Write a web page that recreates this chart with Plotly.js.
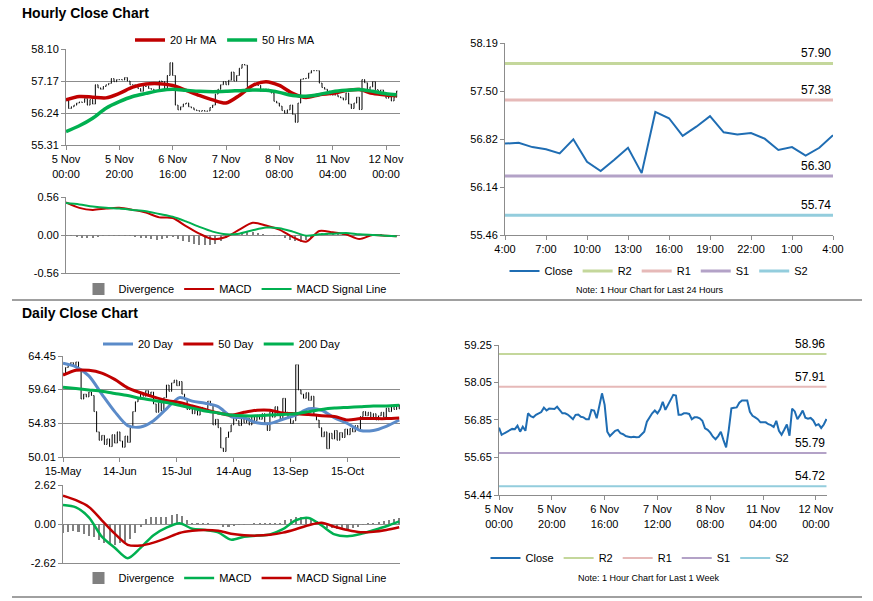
<!DOCTYPE html>
<html><head><meta charset="utf-8">
<script src="https://cdn.plot.ly/plotly-3.0.1.min.js"></script>
<style>html,body{margin:0;padding:0;background:#fff;}#chart{width:873px;height:601px;}</style>
</head><body><div id="chart"></div>
<script>
// ---------- DATA ----------
// Hourly closes, last week (5 Nov 00:00 .. 12 Nov 04:00), one per trading hour
const weekClose = [
56.60,56.37,56.42,56.47,56.53,56.56,56.55,56.66,56.47,56.63,
56.50,57.06,56.97,56.93,57.01,57.06,57.10,57.24,57.15,57.21,
57.21,57.20,57.27,57.17,57.06,57.06,57.02,56.95,56.87,57.01,
57.02,56.95,56.93,56.87,56.87,57.17,57.15,56.90,57.33,57.70,
57.33,56.47,56.33,56.42,56.50,56.53,56.42,56.39,56.33,56.31,
56.29,56.31,56.29,56.30,56.40,56.47,56.79,56.93,57.06,57.15,
57.06,57.19,57.43,57.17,57.33,57.54,57.65,57.63,57.01,57.01,
57.06,57.06,57.04,56.87,56.93,56.93,56.90,56.82,56.58,56.53,
56.44,56.31,56.23,56.33,56.47,56.20,55.97,56.53,57.22,57.24,
57.25,57.40,57.47,57.47,57.47,57.11,56.98,56.93,56.87,56.77,
56.76,56.77,56.71,56.68,56.62,56.82,56.50,56.37,56.53,56.70,
56.34,57.21,57.12,56.87,57.00,57.15,56.92,56.89,56.91,56.83,
56.67,56.71,56.59,56.70,56.88];
const weekTickHours = [0,20,40,60,80,100,120];
const weekTickLabels = ['5 Nov<br>00:00','5 Nov<br>20:00','6 Nov<br>16:00','7 Nov<br>12:00','8 Nov<br>08:00','11 Nov<br>04:00','12 Nov<br>00:00'];

// Hourly moving averages, read every 5 hours
const maHours = [0,5,10,15,20,25,30,35,40,45,50,55,60,65,70,75,80,85,90,95,100,105,110,115,120,124];
const ma20Hr = [56.62,56.72,56.70,56.68,56.81,56.99,57.08,57.09,57.04,56.90,56.75,56.62,56.53,56.75,57.04,57.15,57.04,56.81,56.69,56.77,56.81,56.89,56.92,56.81,56.76,56.74];
const ma50Hr = [55.70,55.87,56.09,56.38,56.57,56.72,56.81,56.89,56.93,56.90,56.87,56.86,56.87,56.89,56.91,56.90,56.84,56.75,56.73,56.78,56.86,56.90,56.92,56.87,56.80,56.77];
const hourlyMacd = [0.48,0.40,0.37,0.39,0.40,0.37,0.33,0.26,0.25,0.13,0.02,-0.06,-0.03,0.08,0.18,0.14,0.08,-0.03,-0.10,0.06,0.04,0.01,-0.06,0.00,-0.01,-0.02];
const hourlySignal = [0.47,0.45,0.42,0.40,0.39,0.37,0.35,0.31,0.27,0.20,0.12,0.05,0.01,0.02,0.07,0.11,0.10,0.05,-0.01,0.01,0.02,0.03,0.01,0.00,-0.01,-0.02];
// Hourly divergence, every 2 hours from hour 0
const hourlyDivergence = [-0.01,-0.02,-0.03,-0.04,-0.04,-0.04,-0.03,-0.02,-0.02,-0.01,
-0.01,-0.01,-0.02,-0.03,-0.04,-0.05,-0.06,-0.07,-0.06,-0.05,
-0.03,-0.06,-0.09,-0.11,-0.13,-0.14,-0.15,-0.15,-0.13,-0.09,
-0.04,0.01,0.03,0.05,0.06,0.05,0.03,0.01,0.00,-0.01,
-0.02,-0.05,-0.07,-0.09,-0.10,-0.08,-0.04,0.01,0.03,0.03,
0.02,0.02,0.01,-0.01,-0.02,-0.02,0.00,0.01,0.01,0.01,
0.00,0.00,-0.01];

const hourlyPriceTicks = [55.31,56.24,57.17,58.10];
const hourlyMacdTicks = [-0.56,0.00,0.56];

// Last 24 hours
const dayClose = [56.76,56.77,56.71,56.68,56.62,56.82,56.50,56.37,56.53,56.70,56.34,57.21,57.12,56.87,57.00,57.15,56.92,56.89,56.91,56.83,56.67,56.71,56.59,56.70,56.88];
const dayTickHours = [0,3,6,9,12,15,18,21,24];
const dayTickLabels = ['4:00','7:00','10:00','13:00','16:00','19:00','22:00','1:00','4:00'];
const dayPriceTicks = [55.46,56.14,56.82,57.50,58.19];
const pivotNames = ['R2','R1','S1','S2'];
const pivot24 = [57.90,57.38,56.30,55.74];
const pivotWeek = [58.96,57.91,55.79,54.72];
const weekPriceTicks = [54.44,55.65,56.85,58.05,59.25];

// Daily closes (15 May .. 12 Nov)
const dailyClose = [
62.0,62.8,63.2,63.5,63.0,63.6,62.4,58.3,59.0,58.6,
59.3,58.8,56.5,53.6,52.4,53.1,51.8,52.6,51.5,53.2,
52.0,53.6,52.3,51.4,53.0,52.1,54.2,56.5,57.9,58.3,
59.2,58.7,59.5,58.9,59.3,57.6,56.4,57.8,56.6,58.5,
60.3,59.4,60.6,61.0,60.2,60.8,59.0,58.2,56.8,57.4,
56.2,56.9,56.0,57.1,56.5,56.9,58.0,57.4,54.6,55.4,
54.2,51.3,50.8,52.8,53.6,54.6,55.8,55.2,54.5,55.5,
54.9,55.6,54.6,55.8,55.2,56.0,55.4,56.2,54.9,53.8,
56.5,55.7,57.2,56.0,55.3,58.4,56.4,55.5,54.8,55.2,
63.2,59.6,59.0,58.4,59.2,58.1,58.7,56.1,55.3,54.2,
52.9,53.6,51.2,53.4,52.6,53.8,52.4,53.5,52.8,54.0,
53.2,54.1,53.6,54.5,53.9,55.8,56.5,55.9,56.4,55.6,
56.2,55.3,55.9,56.4,55.7,57.0,56.5,57.4,56.8,57.5,
56.9];
const dailyTickDays = [0,22,44,66,88,110];
const dailyTickLabels = ['15-May','14-Jun','15-Jul','14-Aug','13-Sep','15-Oct'];
const maDays = [0,5,10,15,20,25,30,35,40,45,50,55,60,65,70,75,80,85,90,95,100,105,110,115,120,125,130];
const ma20Day = [63.4,62.9,61.6,59.0,56.5,54.5,54.3,55.2,56.9,58.5,58.0,57.7,57.2,55.8,55.6,54.9,54.8,55.4,56.0,56.9,56.7,55.6,54.8,53.8,53.8,54.4,55.3];
const ma50Day = [61.7,62.4,62.4,62.0,61.1,59.9,59.2,58.6,58.1,57.8,57.3,56.8,56.3,56.0,56.4,56.7,56.7,56.3,56.2,56.1,55.9,55.8,55.3,55.5,55.5,55.5,55.6];
const ma200Day = [60.0,59.8,59.6,59.4,59.1,58.8,58.4,58.1,57.8,57.4,57.0,56.6,56.3,56.0,55.9,55.9,56.0,56.1,56.2,56.5,56.8,57.0,57.1,57.2,57.3,57.3,57.4];
const dailyMacd = [1.28,1.12,0.45,-0.85,-1.6,-2.3,-1.6,-0.75,-0.25,0.05,-0.32,-0.4,-0.56,-1.05,-0.85,-0.78,-0.7,-0.35,0.25,0.4,-0.1,-0.7,-0.82,-0.67,-0.42,-0.15,0.18];
const dailySignal = [1.9,1.6,1.15,0.25,-0.65,-1.4,-1.45,-1.25,-0.95,-0.6,-0.45,-0.4,-0.45,-0.65,-0.75,-0.78,-0.72,-0.58,-0.35,-0.08,0.08,-0.18,-0.4,-0.55,-0.52,-0.4,-0.22];
// Daily divergence, every 2 days from day 0
const dailyDivergence = [-0.6,-0.55,-0.5,-0.55,-0.7,-0.8,-0.9,-1.1,-1.25,-1.35,
-1.4,-1.3,-1.2,-1.0,-0.6,-0.2,0.35,0.45,0.45,0.45,
0.5,0.6,0.65,0.55,0.3,0.1,0.05,0.05,0.05,0.0,
-0.1,-0.2,-0.2,-0.15,-0.1,-0.05,0.0,0.05,0.05,0.05,
0.05,0.05,0.1,0.3,0.35,0.5,0.5,0.45,0.35,0.2,
-0.1,-0.25,-0.3,-0.35,-0.35,-0.35,-0.3,-0.2,-0.1,0.05,
0.1,0.15,0.2,0.3,0.35,0.4];
const dailyPriceTicks = [50.01,54.83,59.64,64.45];
const dailyMacdTicks = [-2.62,0.00,2.62];

// ---------- STYLE ----------
const FONT = 'Liberation Sans, Arial, sans-serif';
const GRID = '#8c8c8c';
const C = {red:'#c00000', green:'#00b050', blue:'#5b8bc9', close:'#1f6db3',
  R2:'#c4d79b', R1:'#e6b9b8', S1:'#b3a2c7', S2:'#93cddd', div:'#808080'};
const W = 873, H = 601;
const px = v => v / W, py = v => 1 - v / H;

function idx(n, step){ const a=[]; for(let i=0;i<n;i++) a.push(i*step); return a; }
function ohlc(close, xaxis, yaxis){
  const x = close.map((_,i)=>i);
  const open = close.map((c,i)=> i===0 ? c : close[i-1]);
  const high = close.map((c,i)=> Math.max(c, open[i]));
  const low = close.map((c,i)=> Math.min(c, open[i]));
  return {type:'ohlc', x, open, high, low, close, xaxis, yaxis, showlegend:false, hoverinfo:'skip',
    tickwidth:0.25, increasing:{line:{color:'#000',width:1}}, decreasing:{line:{color:'#000',width:1}}};
}
function line(x, y, name, color, width, xa, ya, leg, shape){
  return {type:'scatter', mode:'lines', x, y, name, xaxis:xa, yaxis:ya, legend:leg,
    line:{color, width, shape: shape||'linear', smoothing:0.8}, hoverinfo:'skip'};
}
function bars(x, y, width, xa, ya, leg){
  return {type:'bar', x, y, width, name:'Divergence', xaxis:xa, yaxis:ya, legend:leg,
    marker:{color:C.div, line:{width:0}}, hoverinfo:'skip'};
}

const traces = [];
// Hourly price
traces.push(ohlc(weekClose,'x','y'));
traces.push(line(maHours, ma20Hr, '20 Hr MA', C.red, 3.5, 'x','y','legend','spline'));
traces.push(line(maHours, ma50Hr, '50 Hrs MA', C.green, 3.5, 'x','y','legend','spline'));
// Hourly MACD
traces.push(bars(idx(hourlyDivergence.length,2), hourlyDivergence, 0.7, 'x2','y2','legend2'));
traces.push(line(maHours, hourlyMacd, 'MACD', C.red, 2, 'x2','y2','legend2','spline'));
traces.push(line(maHours, hourlySignal, 'MACD Signal Line', C.green, 2, 'x2','y2','legend2','spline'));
// 24h
const dayX = dayClose.map((_,i)=>i);
traces.push(line(dayX, dayClose, 'Close', C.close, 2, 'x3','y3','legend3'));
pivotNames.forEach((n,i)=> traces.push(line([0, dayX[dayX.length-1]], [pivot24[i],pivot24[i]], n, C[n], 3, 'x3','y3','legend3')));
// Daily price
traces.push(ohlc(dailyClose,'x4','y4'));
traces.push(line(maDays, ma20Day, '20 Day', C.blue, 3, 'x4','y4','legend4','spline'));
traces.push(line(maDays, ma50Day, '50 Day', C.red, 3, 'x4','y4','legend4','spline'));
traces.push(line(maDays, ma200Day, '200 Day', C.green, 3, 'x4','y4','legend4','spline'));
// Daily MACD
traces.push(bars(idx(dailyDivergence.length,2), dailyDivergence, 0.8, 'x5','y5','legend5'));
traces.push(line(maDays, dailyMacd, 'MACD', C.green, 2.5, 'x5','y5','legend5','spline'));
traces.push(line(maDays, dailySignal, 'MACD Signal Line', C.red, 2.5, 'x5','y5','legend5','spline'));
// Week
const weekX = weekClose.map((_,i)=>i);
traces.push(line(weekX, weekClose, 'Close', C.close, 2, 'x6','y6','legend6'));
pivotNames.forEach((n,i)=> traces.push(line([0, weekX[weekX.length-1]], [pivotWeek[i],pivotWeek[i]], n, C[n], 2, 'x6','y6','legend6')));

const tickfont = {family:FONT, size:11, color:'#000'};
function xax(x0, x1, y, range, tv, tt, showLabels){
  return {domain:[px(x0),px(x1)], anchor:y, range, fixedrange:true,
    tickmode:'array', tickvals:tv, ticktext:tt, showticklabels:showLabels,
    ticks: showLabels?'outside':'', ticklen:4, tickcolor:GRID,
    showline:true, linecolor:GRID, linewidth:1, showgrid:false, zeroline:false,
    tickfont, rangeslider:{visible:false}};
}
function yax(y0, y1, x, ticks, grid){
  return {domain:[py(y1),py(y0)], anchor:x, range:[ticks[0], ticks[ticks.length-1]], fixedrange:true,
    tickmode:'array', tickvals:ticks, ticktext:ticks.map(v=>v.toFixed(2)),
    ticks:'outside', ticklen:4, tickcolor:GRID, showline:true, linecolor:GRID, linewidth:1,
    showgrid:grid, gridcolor:GRID, gridwidth:1, zeroline:false, tickfont};
}
function legend(cx, cy){
  return {orientation:'h', x:px(cx), y:py(cy), xanchor:'center', yanchor:'middle',
    font:{family:FONT, size:11, color:'#000'}, bgcolor:'rgba(0,0,0,0)', itemwidth:30,
    tracegroupgap:0, itemclick:false, itemdoubleclick:false};
}

const layout = {
  width:W, height:H, margin:{l:0,r:0,t:0,b:0}, paper_bgcolor:'#fff', plot_bgcolor:'#fff',
  font:{family:FONT, size:11, color:'#000'}, bargap:0, barmode:'overlay',
  xaxis: xax(66,400,'y',[0,125.25], weekTickHours, weekTickLabels, true),
  yaxis: yax(49,145,'x',hourlyPriceTicks,true),
  xaxis2: xax(66,400,'y2',[0,125.25], [], [], false),
  yaxis2: yax(197,273,'x2',hourlyMacdTicks,true),
  xaxis3: xax(505,833,'y3',[0,24], dayTickHours, dayTickLabels, true),
  yaxis3: yax(43,235,'x3',dayPriceTicks,false),
  xaxis4: xax(63,400,'y4',[0,130.3], dailyTickDays, dailyTickLabels, true),
  yaxis4: yax(356,457,'x4',dailyPriceTicks,true),
  xaxis5: xax(63,400,'y5',[0,130.3], [], [], false),
  yaxis5: yax(485,563,'x5',dailyMacdTicks,true),
  xaxis6: xax(499,827,'y6',[0,124.2], weekTickHours, weekTickLabels, true),
  yaxis6: yax(345,495,'x6',weekPriceTicks,false),
  legend: legend(225,40), legend2: legend(235,289), legend3: legend(659,271),
  legend4: legend(222,344), legend5: legend(235,578), legend6: legend(640,558),
  annotations: [
    {text:'<b>Hourly Close Chart</b>', xref:'paper', yref:'paper', x:px(20), y:py(13), xanchor:'left', yanchor:'middle', showarrow:false, font:{family:FONT,size:14,color:'#000'}},
    {text:'<b>Daily Close Chart</b>', xref:'paper', yref:'paper', x:px(20), y:py(313), xanchor:'left', yanchor:'middle', showarrow:false, font:{family:FONT,size:14,color:'#000'}},
    {text:'Note: 1 Hour Chart for Last 24 Hours', xref:'paper', yref:'paper', x:px(650), y:py(290), xanchor:'center', yanchor:'middle', showarrow:false, font:{family:FONT,size:9,color:'#000'}},
    {text:'Note: 1 Hour Chart for Last 1 Week', xref:'paper', yref:'paper', x:px(648), y:py(578), xanchor:'center', yanchor:'middle', showarrow:false, font:{family:FONT,size:9,color:'#000'}}
  ],
  shapes: [
    {type:'line', xref:'paper', yref:'paper', x0:px(12), x1:px(862), y0:py(300), y1:py(300), line:{color:'#808080', width:1.5}},
    {type:'line', xref:'paper', yref:'paper', x0:px(12), x1:px(862), y0:py(597), y1:py(597), line:{color:'#808080', width:1.5}}
  ]
};
pivot24.forEach(v => layout.annotations.push({text:v.toFixed(2), xref:'x3 domain', yref:'y3', x:1, y:v, xanchor:'right', yanchor:'bottom', yshift:1, showarrow:false, font:{family:FONT,size:12,color:'#000'}}));
pivotWeek.forEach(v => layout.annotations.push({text:v.toFixed(2), xref:'x6 domain', yref:'y6', x:1, y:v, xanchor:'right', yanchor:'bottom', yshift:1, showarrow:false, font:{family:FONT,size:12,color:'#000'}}));

Plotly.newPlot('chart', traces, layout, {displayModeBar:false, staticPlot:true});
</script></body></html>
